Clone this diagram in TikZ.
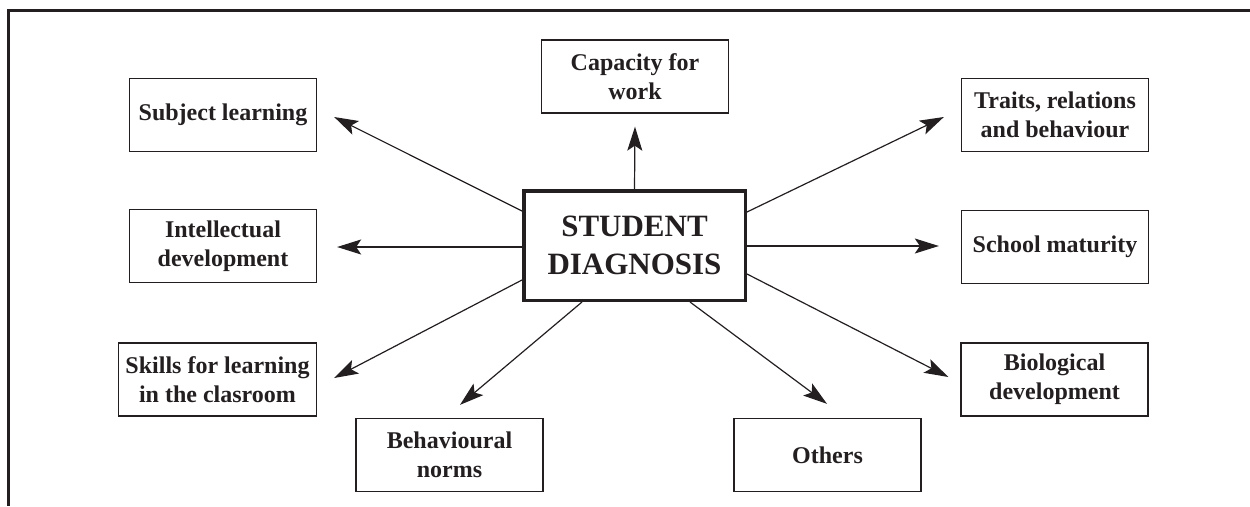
\documentclass[tikz,border=0pt]{standalone}
\usepackage{fontspec}
\setmainfont{Liberation Serif}
\usetikzlibrary{arrows.meta,calc}
\definecolor{ink}{RGB}{35,31,32}
\begin{document}
\begin{tikzpicture}[x=1pt,y=-1pt,
  box/.style={draw=ink, line width=1.3pt, minimum width=187pt, minimum height=73pt,
    align=center, inner sep=0pt, text=ink, font=\fontsize{24}{29}\selectfont\bfseries},
  hub/.style={draw=ink, line width=3.5pt, minimum width=221.5pt, minimum height=109.5pt,
    align=center, inner sep=0pt, text=ink, font=\fontsize{31}{38}\selectfont\bfseries},
  arr/.style={draw=ink, line width=1.2pt, -{Stealth[length=24pt,width=15pt,inset=5pt]}}]
\useasboundingbox (0,0) rectangle (1250,506);
\draw[ink, line width=2.6pt] (1250,10.5) -- (8.5,10.5) -- (8.5,506);
\node[hub] (c) at (634.5,245.5) {STUDENT\\DIAGNOSIS};
\node[box] (cap) at (635,76.5) {Capacity for\\work};
\node[box] (subj) at (223,115) {Subject learning};
\node[box] (intel) at (223,246) {Intellectual\\development};
\node[box, minimum width=198pt] (skills) at (217.5,379.5) {Skills for learning\\in the clasroom};
\node[box] (behav) at (449.5,455) {Behavioural\\norms};
\node[box] (others) at (827.5,455) {Others};
\node[box] (bio) at (1054.5,379.5) {Biological\\development};
\node[box] (school) at (1055,247) {School maturity};
\node[box] (traits) at (1055,115) {Traits, relations\\and behaviour};
\draw[arr] (c.north) -- ($(cap.south)+(0,13)$);
\draw[arr] (c.west |- 0,211) -- ($(subj.east)+(17,2)$);
\draw[arr] ($(c.west)+(0,1.5)$) -- ($(intel.east)+(20,1)$);
\draw[arr] (c.west |- 0,280) -- ($(skills.east)+(17,-1.5)$);
\draw[arr] ($(c.south)+(-52.5,0)$) -- ($(behav.north)+(10.5,-13)$);
\draw[arr] ($(c.south)+(55.5,0)$) -- ($(others.north)+(-0.5,-14)$);
\draw[arr] (c.east |- 0,274) -- ($(bio.west)+(-12,-2.5)$);
\draw[arr] ($(c.east)+(0,0.5)$) -- ($(school.west)+(-22,-1)$);
\draw[arr] (c.east |- 0,212) -- ($(traits.west)+(-17,2)$);
\end{tikzpicture}
\end{document}
